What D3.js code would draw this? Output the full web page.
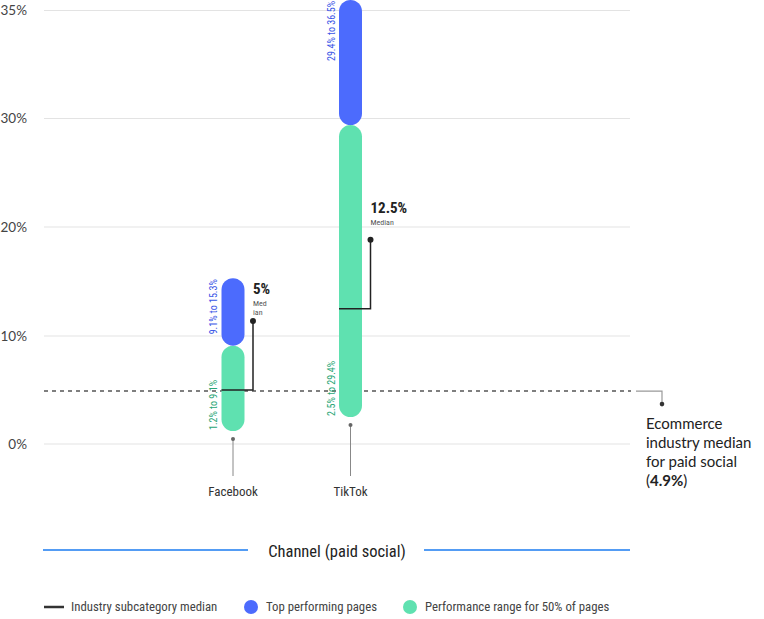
<!DOCTYPE html>
<html>
<head>
<meta charset="utf-8">
<script src="https://cdn.jsdelivr.net/npm/d3@7"></script>
<style>
  body { margin: 0; background: #fff; }
  svg { display: block; }
</style>
</head>
<body>
<div id="chart"></div>
<script>

// chart values
const channels = ['Facebook', 'TikTok']
const rangeLow = [1.2, 2.5]          // performance range for 50% of pages
const rangeHigh = [9.1, 29.4]
const topLow = [9.1, 29.4]           // top performing pages
const topHigh = [15.3, 36.5]
const medians = [5, 12.5]            // industry subcategory median
const industryMedian = 4.9
const yTicks = [0, 10, 20, 30, 35]
const yTickLabels = ['0%', '10%', '20%', '30%', '35%']

const width = 764,
      height = 619,
      condensed = '"Roboto Condensed", "Liberation Sans Narrow", "Arial Narrow", Roboto, sans-serif',
      plain = 'Lato, "Open Sans", sans-serif',
      blue = '#4c6bfd',
      green = '#5fe1b0',
      blueText = '#3a56e6',
      greenText = '#2aa676',
      barWidth = 23

// broken axis: the 30-35% band is drawn as tall as a 10% step
const yScale = d3.scaleLinear()
    .domain([0, 10, 20, 30, 35, 36.5])
    .range([444, 336, 227, 118.5, 10.5, 0])

const xScale = d3.scalePoint()
    .domain(channels)
    .range([233, 350.5])

const svg = d3.select('#chart')
    .append('svg')
    .attr('width', width)
    .attr('height', height)
    .attr('viewBox', `0 0 ${width} ${height}`)

// grid
const grid = svg.append('g')
grid.selectAll('line')
    .data(yTicks)
    .join('line')
    .attr('x1', 44)
    .attr('x2', 630)
    .attr('y1', d => yScale(d))
    .attr('y2', d => yScale(d))
    .attr('stroke', '#e3e3e3')
    .attr('stroke-width', 1)

grid.selectAll('text')
    .data(yTicks)
    .join('text')
    .attr('x', 27)
    .attr('y', d => yScale(d))
    .attr('dy', '0.36em')
    .attr('text-anchor', 'end')
    .attr('font-family', plain)
    .attr('font-size', '13.5px')
    .attr('fill', '#444')
    .text((d, i) => yTickLabels[i])

// industry median line
const yInd = yScale(industryMedian)
svg.append('line')
    .attr('x1', 44)
    .attr('x2', 631)
    .attr('y1', yInd)
    .attr('y2', yInd)
    .attr('stroke', '#555')
    .attr('stroke-width', 1.5)
    .attr('stroke-dasharray', '4,4')

svg.append('path')
    .attr('d', `M636,${yInd}H662V${yInd + 13}`)
    .attr('fill', 'none')
    .attr('stroke', '#999')
    .attr('stroke-width', 1.2)

svg.append('circle')
    .attr('cx', 662)
    .attr('cy', yInd + 13)
    .attr('r', 2.3)
    .attr('fill', '#333')

const note = svg.append('text')
    .attr('font-family', plain)
    .attr('font-size', '15px')
    .attr('fill', '#222')
note.append('tspan').attr('x', 646).attr('y', yInd + 38).text('Ecommerce')
note.append('tspan').attr('x', 646).attr('y', yInd + 57).text('industry median')
note.append('tspan').attr('x', 646).attr('y', yInd + 76).text('for paid social')
const last = note.append('tspan').attr('x', 646).attr('y', yInd + 95)
last.append('tspan').text('(')
last.append('tspan').attr('font-weight', 'bold').text(industryMedian + '%')
last.append('tspan').text(')')

// x axis stems
channels.forEach((c, i) => {
    const x = xScale(c)
    const yDot = yScale(rangeLow[i]) + 8
    svg.append('line')
        .attr('x1', x).attr('x2', x)
        .attr('y1', yDot).attr('y2', 476)
        .attr('stroke', '#888')
        .attr('stroke-width', 1)
    svg.append('circle')
        .attr('cx', x).attr('cy', yDot)
        .attr('r', 2)
        .attr('fill', '#666')
    svg.append('text')
        .attr('x', x)
        .attr('y', 496)
        .attr('text-anchor', 'middle')
        .attr('font-family', condensed)
        .attr('font-size', '13px')
        .attr('fill', '#333')
        .text(c)
})

// capsules
function capsule(lo, hi, fill) {
    return svg.append('g').selectAll('rect')
        .data(channels)
        .join('rect')
        .attr('x', d => xScale(d) - barWidth / 2)
        .attr('y', (d, i) => yScale(hi[i]))
        .attr('width', barWidth)
        .attr('height', (d, i) => yScale(lo[i]) - yScale(hi[i]))
        .attr('rx', barWidth / 2)
        .attr('fill', fill)
}

capsule(rangeLow, rangeHigh, green)
capsule(topLow, topHigh, blue)

// range labels (rotated, left of bar)
channels.forEach((c, i) => {
    const xb = xScale(c) - barWidth / 2 - 4.5
    svg.append('text')
        .attr('transform', `translate(${xb},${yScale(topHigh[i]) + 1}) rotate(-90)`)
        .attr('text-anchor', 'end')
        .attr('font-family', condensed)
        .attr('font-size', '10px')
        .attr('fill', blueText)
        .text(`${topLow[i]}% to ${topHigh[i]}%`)
    svg.append('text')
        .attr('transform', `translate(${xb},${yScale(rangeLow[i]) - 1}) rotate(-90)`)
        .attr('text-anchor', 'start')
        .attr('font-family', condensed)
        .attr('font-size', '10px')
        .attr('fill', greenText)
        .text(`${rangeLow[i]}% to ${rangeHigh[i]}%`)
})

// median markers
channels.forEach((c, i) => {
    const x0 = xScale(c) - barWidth / 2
    const xm = xScale(c) + 20
    const ym = yScale(medians[i])
    const yd = ym - 69
    svg.append('path')
        .attr('d', `M${x0},${ym}H${xm}V${yd}`)
        .attr('fill', 'none')
        .attr('stroke', '#222')
        .attr('stroke-width', 1.5)
    svg.append('circle')
        .attr('cx', xm).attr('cy', yd)
        .attr('r', 3)
        .attr('fill', '#222')
    svg.append('text')
        .attr('x', xm)
        .attr('y', yd - 27)
        .attr('font-family', condensed)
        .attr('font-weight', 'bold')
        .attr('font-size', '15px')
        .attr('fill', '#222')
        .text(medians[i] + '%')
    const lab = svg.append('text')
        .attr('font-family', condensed)
        .attr('font-size', '8px')
        .attr('fill', '#555')
    if (i === 0) {
        lab.append('tspan').attr('x', xm).attr('y', yd - 15).text('Med')
        lab.append('tspan').attr('x', xm).attr('y', yd - 6).text('ian')
    } else {
        lab.append('tspan').attr('x', xm).attr('y', yd - 15).text('Median')
    }
})

// axis title
svg.append('line')
    .attr('x1', 43).attr('x2', 248)
    .attr('y1', 550).attr('y2', 550)
    .attr('stroke', '#1a7bf0').attr('stroke-width', 1.5)
svg.append('line')
    .attr('x1', 424).attr('x2', 630)
    .attr('y1', 550).attr('y2', 550)
    .attr('stroke', '#1a7bf0').attr('stroke-width', 1.5)
svg.append('text')
    .attr('x', 337)
    .attr('y', 557)
    .attr('text-anchor', 'middle')
    .attr('font-family', condensed)
    .attr('font-size', '16.5px')
    .attr('fill', '#222')
    .text('Channel (paid social)')

// legend
const legend = svg.append('g').attr('font-family', condensed).attr('font-size', '12.8px').attr('fill', '#444')
legend.append('line')
    .attr('x1', 44).attr('x2', 64)
    .attr('y1', 607).attr('y2', 607)
    .attr('stroke', '#333').attr('stroke-width', 2.5)
legend.append('text').attr('x', 71).attr('y', 611).text('Industry subcategory median')
legend.append('circle').attr('cx', 251).attr('cy', 607).attr('r', 7).attr('fill', blue)
legend.append('text').attr('x', 266).attr('y', 611).text('Top performing pages')
legend.append('circle').attr('cx', 410).attr('cy', 607).attr('r', 7).attr('fill', green)
legend.append('text').attr('x', 425).attr('y', 611).text('Performance range for 50% of pages')

</script>
</body>
</html>
